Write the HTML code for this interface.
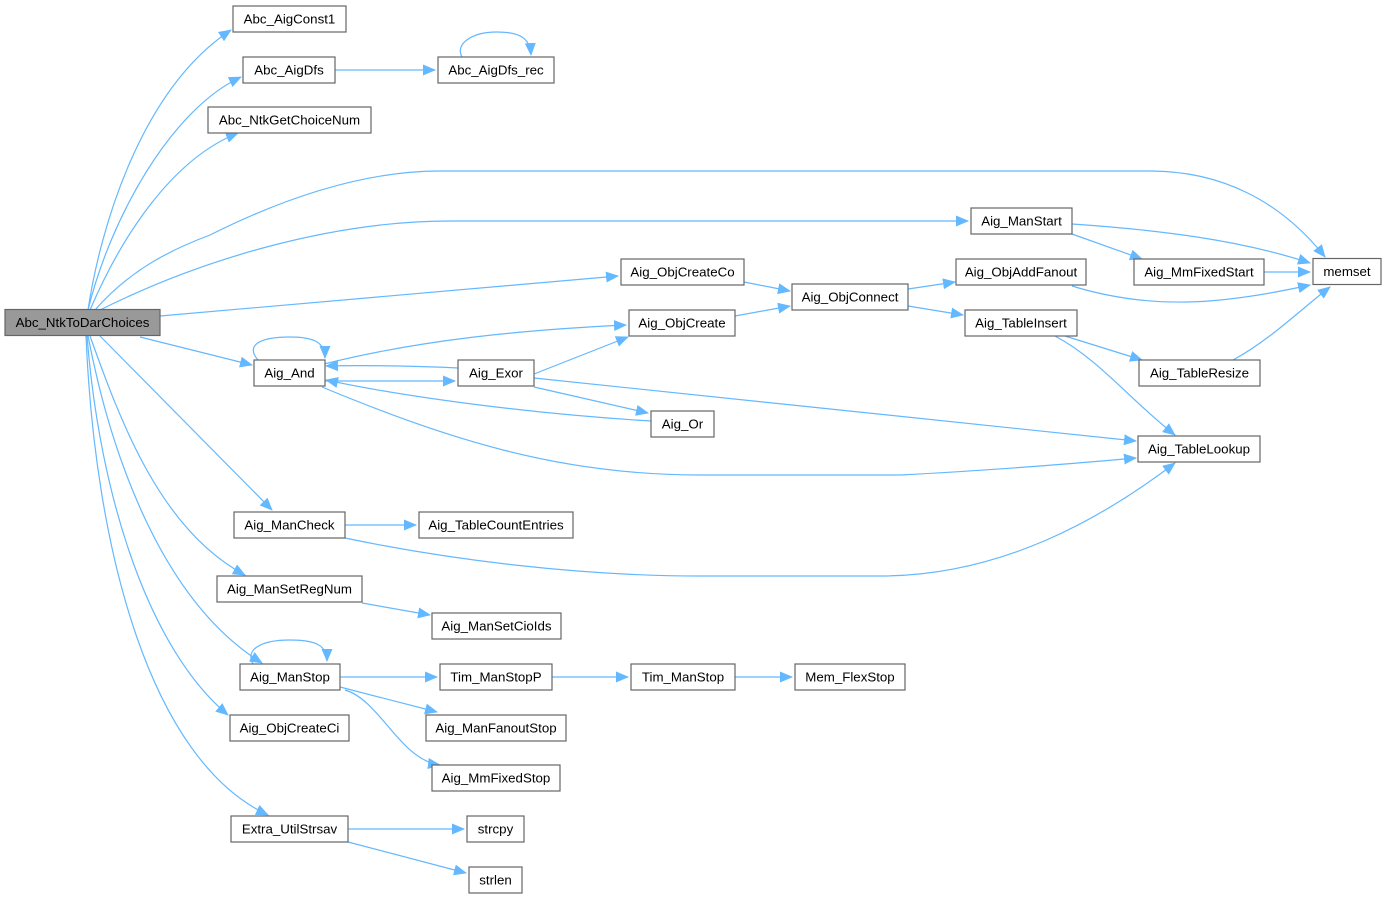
<!DOCTYPE html>
<html><head><meta charset="utf-8"><style>
html,body{margin:0;padding:0;background:#fff;width:1386px;height:899px;overflow:hidden}
svg{display:block}
text{font-family:"Liberation Sans",Arial,sans-serif;font-size:13.3px;fill:#000}
.n{fill:#fff;stroke:#666;stroke-width:1.2}
.e{fill:none;stroke:#63b8ff;stroke-width:1.2}
</style></head><body>
<svg width="1386" height="899" viewBox="0 0 1386 899" xmlns="http://www.w3.org/2000/svg">
<defs><marker id="a" markerWidth="13" markerHeight="11" refX="12" refY="5.5" orient="auto" markerUnits="userSpaceOnUse"><path d="M0,0 L13,5.5 L0,11 z" fill="#63b8ff"/></marker></defs>
<g class="e" marker-end="url(#a)">
<path d="M88,310 C100,230 140,90 231,30"/>
<path d="M88,310 C110,220 170,110 241,77"/>
<path d="M90,310 C120,240 170,160 238,133"/>
<path d="M95,310 C130,270 170,250 210,235 C280,200 360,171 440,171 L1150,171 C1220,171 1280,200 1325,257"/>
<path d="M100,310 C200,260 330,221 450,221 L968,221"/>
<path d="M160,316 L618,276"/>
<path d="M140,337 L252,365"/>
<path d="M100,336 L272,510"/>
<path d="M90,336 C120,420 160,530 245,575"/>
<path d="M88,336 C110,450 160,600 262,663"/>
<path d="M87,336 C100,500 150,650 228,715"/>
<path d="M86,336 C95,550 150,760 268,815"/>
<path d="M335,70 L435,70"/>
<path d="M462,57 C455,45 470,32 497,32 C520,32 530,38 531,55"/>
<path d="M1072,224 C1160,230 1240,240 1310,263"/>
<path d="M1072,234 L1142,259"/>
<path d="M1264,272 L1310,272"/>
<path d="M1072,286 C1150,310 1220,305 1310,285"/>
<path d="M1233,360 C1270,340 1300,310 1330,287"/>
<path d="M744,282 L790,291"/>
<path d="M735,316 L790,306"/>
<path d="M908,289 L955,282"/>
<path d="M908,306 L963,315"/>
<path d="M1065,336 L1142,360"/>
<path d="M1055,336 C1100,360 1130,400 1175,435"/>
<path d="M258,360 C245,345 260,337 290,337 C315,337 325,343 325,358"/>
<path d="M324,364 C420,340 520,330 626,325"/>
<path d="M458,368 C420,366 360,365 326,366"/>
<path d="M324,381 L455,381"/>
<path d="M651,421 C550,415 420,400 326,380"/>
<path d="M534,374 L628,337"/>
<path d="M534,387 L648,413"/>
<path d="M534,378 L1136,441"/>
<path d="M322,387 C450,440 560,475 700,475 L900,475 C1000,470 1080,463 1136,458"/>
<path d="M345,525 L416,525"/>
<path d="M345,538 C450,560 580,576 700,576 L880,576 C1000,576 1100,520 1175,463"/>
<path d="M362,603 L430,615"/>
<path d="M253,664 C245,650 260,640 290,640 C315,640 327,645 327,661"/>
<path d="M340,677 L437,677"/>
<path d="M552,677 L628,677"/>
<path d="M735,677 L792,677"/>
<path d="M340,687 L437,712"/>
<path d="M345,690 C380,700 400,760 440,765"/>
<path d="M348,829 L464,829"/>
<path d="M348,842 L466,873"/>
</g>
<g>
<rect x="5" y="309.5" width="155" height="26" fill="#999" stroke="#666" stroke-width="1.2"/><text x="82.5" y="327" text-anchor="middle">Abc_NtkToDarChoices</text>
<rect class="n" x="233" y="6" width="113" height="26"/><text x="289.5" y="23.5" text-anchor="middle">Abc_AigConst1</text>
<rect class="n" x="243" y="57" width="92" height="26"/><text x="289" y="74.5" text-anchor="middle">Abc_AigDfs</text>
<rect class="n" x="438" y="57" width="116" height="26"/><text x="496" y="74.5" text-anchor="middle">Abc_AigDfs_rec</text>
<rect class="n" x="208" y="107" width="163" height="26"/><text x="289.5" y="124.5" text-anchor="middle">Abc_NtkGetChoiceNum</text>
<rect class="n" x="1313" y="258.5" width="68" height="26"/><text x="1347" y="276" text-anchor="middle">memset</text>
<rect class="n" x="971" y="208" width="101" height="26"/><text x="1021.5" y="225.5" text-anchor="middle">Aig_ManStart</text>
<rect class="n" x="621" y="259" width="123" height="26"/><text x="682.5" y="276.5" text-anchor="middle">Aig_ObjCreateCo</text>
<rect class="n" x="792" y="284" width="116" height="26"/><text x="850" y="301.5" text-anchor="middle">Aig_ObjConnect</text>
<rect class="n" x="956" y="259" width="130" height="26"/><text x="1021" y="276.5" text-anchor="middle">Aig_ObjAddFanout</text>
<rect class="n" x="1134" y="259" width="130" height="26"/><text x="1199" y="276.5" text-anchor="middle">Aig_MmFixedStart</text>
<rect class="n" x="629" y="310" width="106" height="26"/><text x="682" y="327.5" text-anchor="middle">Aig_ObjCreate</text>
<rect class="n" x="965" y="310" width="112" height="26"/><text x="1021" y="327.5" text-anchor="middle">Aig_TableInsert</text>
<rect class="n" x="254" y="360" width="71" height="26"/><text x="289.5" y="377.5" text-anchor="middle">Aig_And</text>
<rect class="n" x="458" y="360" width="76" height="26"/><text x="496" y="377.5" text-anchor="middle">Aig_Exor</text>
<rect class="n" x="1139" y="360" width="121" height="26"/><text x="1199.5" y="377.5" text-anchor="middle">Aig_TableResize</text>
<rect class="n" x="651" y="411" width="63" height="26"/><text x="682.5" y="428.5" text-anchor="middle">Aig_Or</text>
<rect class="n" x="1138" y="436" width="122" height="26"/><text x="1199" y="453.5" text-anchor="middle">Aig_TableLookup</text>
<rect class="n" x="234" y="512" width="111" height="26"/><text x="289.5" y="529.5" text-anchor="middle">Aig_ManCheck</text>
<rect class="n" x="419" y="512" width="154" height="26"/><text x="496" y="529.5" text-anchor="middle">Aig_TableCountEntries</text>
<rect class="n" x="217" y="576" width="145" height="26"/><text x="289.5" y="593.5" text-anchor="middle">Aig_ManSetRegNum</text>
<rect class="n" x="432" y="613" width="129" height="26"/><text x="496.5" y="630.5" text-anchor="middle">Aig_ManSetCioIds</text>
<rect class="n" x="240" y="664" width="100" height="26"/><text x="290" y="681.5" text-anchor="middle">Aig_ManStop</text>
<rect class="n" x="440" y="664" width="112" height="26"/><text x="496" y="681.5" text-anchor="middle">Tim_ManStopP</text>
<rect class="n" x="631" y="664" width="104" height="26"/><text x="683" y="681.5" text-anchor="middle">Tim_ManStop</text>
<rect class="n" x="795" y="664" width="110" height="26"/><text x="850" y="681.5" text-anchor="middle">Mem_FlexStop</text>
<rect class="n" x="426" y="715" width="140" height="26"/><text x="496" y="732.5" text-anchor="middle">Aig_ManFanoutStop</text>
<rect class="n" x="230" y="715" width="119" height="26"/><text x="289.5" y="732.5" text-anchor="middle">Aig_ObjCreateCi</text>
<rect class="n" x="432" y="765" width="128" height="26"/><text x="496" y="782.5" text-anchor="middle">Aig_MmFixedStop</text>
<rect class="n" x="231" y="816" width="117" height="26"/><text x="289.5" y="833.5" text-anchor="middle">Extra_UtilStrsav</text>
<rect class="n" x="467" y="816" width="57" height="26"/><text x="495.5" y="833.5" text-anchor="middle">strcpy</text>
<rect class="n" x="469" y="867" width="53" height="26"/><text x="495.5" y="884.5" text-anchor="middle">strlen</text>
</g>
</svg>
</body></html>
